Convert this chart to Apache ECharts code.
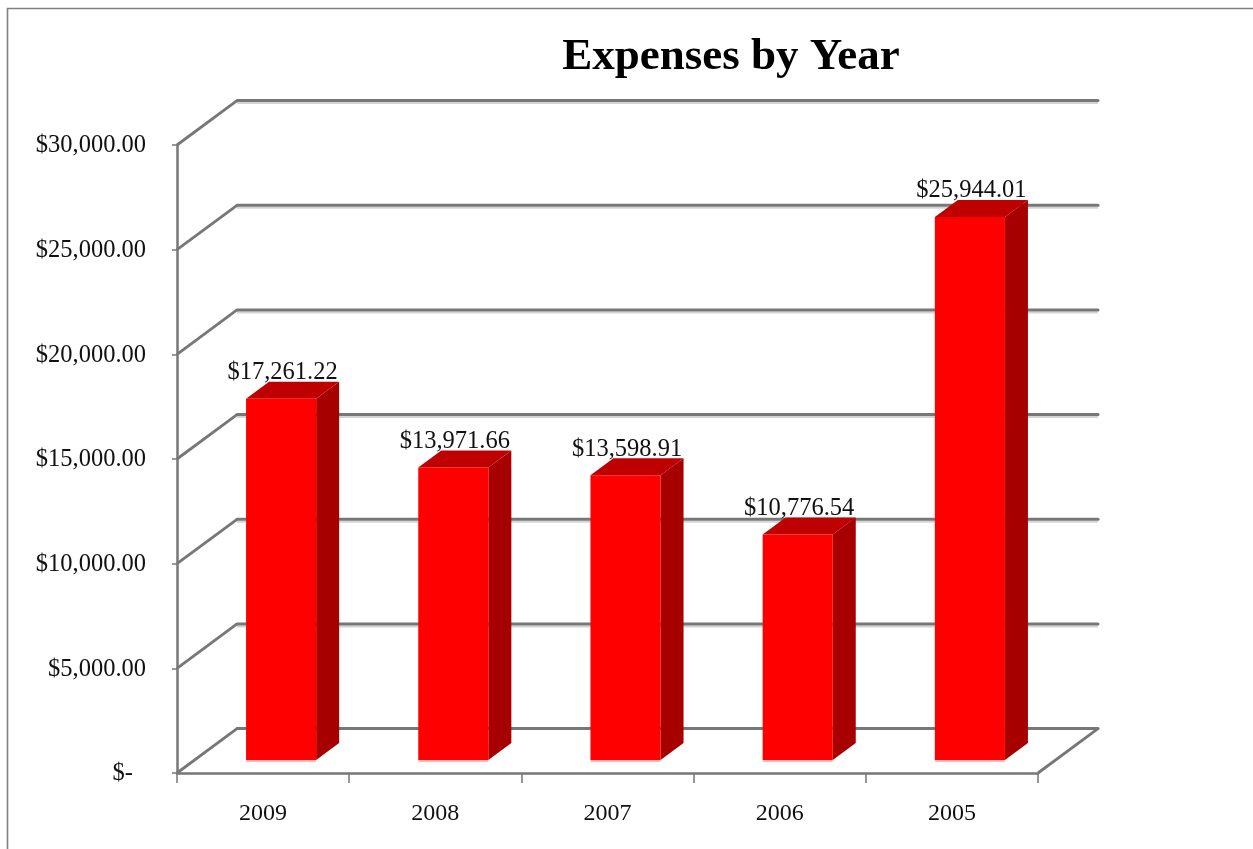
<!DOCTYPE html>
<html>
<head>
<meta charset="utf-8">
<style>html,body{margin:0;padding:0;background:#fff}#c{width:1253px;height:849px}</style>
<script src="https://cdn.jsdelivr.net/npm/echarts@6/dist/echarts.min.js"></script>
</head>
<body>
<div id="c"></div>
<script>
const categories = ['2009', '2008', '2007', '2006', '2005'];
const expenses = [17261.22, 13971.66, 13598.91, 10776.54, 25944.01];
const yTicks = [0, 5000, 10000, 15000, 20000, 25000, 30000];
const titleText = 'Expenses by Year';

const FONT = '"Liberation Serif", "Times New Roman", serif';
const GREY = '#777777';
const WALL = { dx: 60, dy: -44.4 };
const FRONT = { dx: 18, dy: -13 };
const SIDE = { dx: 23, dy: -17 };
const BAR_RATIO = 0.407;

function money(v) {
  return '$' + v.toLocaleString('en-US', { minimumFractionDigits: 2, maximumFractionDigits: 2 });
}

function renderWall(params, api) {
  const r = params.coordSys;
  const v = api.value(1);
  const y = api.coord([0, v])[1];
  const left = r.x, right = r.x + r.width;
  const bx = left + WALL.dx, by = y + WALL.dy;
  const children = [];
  if (v > 0) {
    children.push({ type: 'line', shape: { x1: bx, y1: by + 2.5, x2: right + WALL.dx, y2: by + 2.5 },
      style: { stroke: '#d4d4d4', lineWidth: 2 } });
  }
  children.push({ type: 'line', shape: { x1: bx, y1: by, x2: right + WALL.dx, y2: by },
    style: { stroke: GREY, lineWidth: 3, lineCap: 'round' } });
  children.push({ type: 'line', shape: { x1: left, y1: y, x2: bx, y2: by },
    style: { stroke: GREY, lineWidth: 2.8 } });
  if (v === 0) {
    children.push({ type: 'line', shape: { x1: right, y1: y, x2: right + WALL.dx, y2: by },
      style: { stroke: GREY, lineWidth: 2.8 } });
  }
  return { type: 'group', children };
}

function renderBar(params, api) {
  const i = api.value(0), v = api.value(1);
  const band = api.size([1, 0])[0];
  const w = band * BAR_RATIO;
  const c0 = api.coord([i, 0]), c1 = api.coord([i, v]);
  const x0 = c0[0] - w / 2 + FRONT.dx, x1 = x0 + w;
  const yb = c0[1] + FRONT.dy, yt = c1[1] + FRONT.dy;
  const sx = SIDE.dx, sy = SIDE.dy;
  return { type: 'group', children: [
    { type: 'rect', shape: { x: x0, y: yb, width: w, height: 2 }, style: { fill: '#ffb8b8' } },
    { type: 'polygon', shape: { points: [[x1, yt], [x1 + sx, yt + sy], [x1 + sx, yb + sy], [x1, yb]] },
      style: { fill: '#a60000' } },
    { type: 'polygon', shape: { points: [[x0, yt], [x0 + sx, yt + sy], [x1 + sx, yt + sy], [x1, yt]] },
      style: { fill: '#bf0000' } },
    { type: 'rect', shape: { x: x0, y: yt, width: w, height: yb - yt }, style: { fill: '#ff0000' } },
    { type: 'text', x: c0[0] + FRONT.dx + 1.5, y: yt - 26, z2: 10,
      style: { text: money(v), fill: '#111', font: '24.5px ' + FONT, align: 'center', verticalAlign: 'middle' } }
  ] };
}

const chart = echarts.init(document.getElementById('c'), null, { renderer: 'canvas' });
chart.setOption({
  animation: false,
  backgroundColor: '#fff',
  title: {
    text: titleText, left: 726, top: 30, textAlign: 'center',
    textStyle: { fontFamily: FONT, fontWeight: 'bold', fontSize: 45, color: '#000' }
  },
  grid: { left: 177, right: 215, top: 145, bottom: 76 },
  xAxis: {
    type: 'category', data: categories,
    axisLine: { lineStyle: { color: GREY, width: 2.5 } },
    axisTick: { show: true, length: 10, lineStyle: { color: GREY, width: 1.5 } },
    axisLabel: { fontFamily: FONT, fontSize: 24, color: '#111', margin: 29 }
  },
  yAxis: {
    type: 'value', min: 0, max: 30000, interval: 5000,
    axisLine: { show: true, lineStyle: { color: GREY, width: 2.5 } },
    axisTick: { show: true, length: 5, lineStyle: { color: GREY, width: 1.5 } },
    splitLine: { show: false },
    axisLabel: {
      fontFamily: FONT, fontSize: 24.5, color: '#111', margin: 31, padding: [2, 0, 0, 0],
      formatter: v => v === 0 ? '{z|$-}' : money(v),
      rich: { z: { fontFamily: FONT, fontSize: 24.5, color: '#111', padding: [0, 13, 0, 0] } }
    }
  },
  graphic: [{
    type: 'polyline', silent: true, z: 0,
    shape: { points: [[7.5, 849], [7.5, 8.5], [1253, 8.5]] },
    style: { stroke: '#808080', lineWidth: 1.6, fill: null }
  }],
  series: [
    { type: 'custom', z: 1, silent: true, clip: false, renderItem: renderWall,
      data: yTicks.map(v => [0, v]), encode: { x: 0, y: 1 } },
    { type: 'custom', z: 3, silent: true, clip: false, renderItem: renderBar,
      data: expenses.map((v, i) => [i, v]), encode: { x: 0, y: 1 } }
  ]
});
</script>
</body>
</html>
